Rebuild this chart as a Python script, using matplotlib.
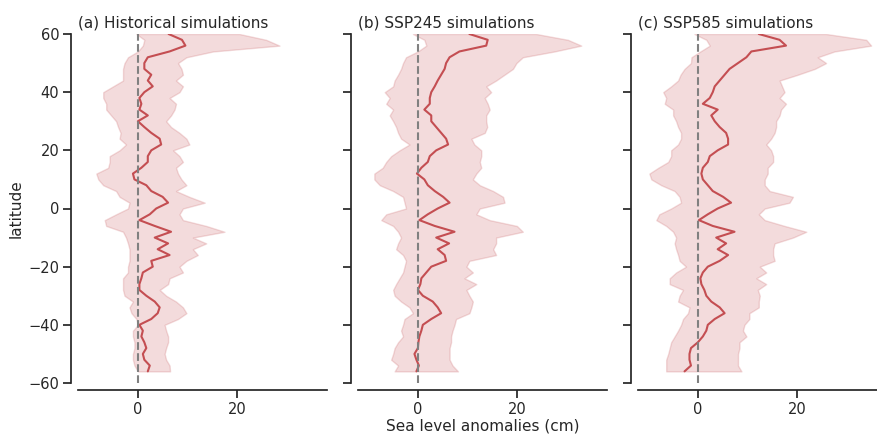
import numpy as np
import matplotlib
matplotlib.use("Agg")
import matplotlib.pyplot as plt
import seaborn as sns

# latitude grid (2 degree steps, north to south)
lat = np.arange(60, -57, -2)

# (a) historical
hist_mean = [6.2, 8.9, 9.6, 6.4, 2.0, 1.3, 1.3, 2.7, 2.0, 3.0, 1.3, 0.3, 0.7, 0.3, 2.0,
             0.0, 1.3, 2.7, 4.4, 4.7, 2.7, 2.0, 2.0, 0.7, -1.0, -0.7, 1.7, 2.7, 5.0, 6.1,
             3.7, 2.4, 0.3, 3.4, 6.7, 3.4, 6.1, 4.0, 6.4, 2.7, 3.0, 1.0, 0.7, 0.3, 0.3,
             1.7, 3.4, 4.4, 4.0, 2.7, 0.3, 1.0, 0.7, 1.3, 1.7, 1.0, 1.3, 2.4, 2.0]
hist_low = [-0.3, 1.3, 1.0, 0.0, -2.0, -2.7, -3.0, -3.0, -3.0, -5.0, -7.0, -7.0, -6.4, -6.4, -5.4,
            -4.4, -4.0, -3.5, -3.7, -2.4, -3.7, -5.7, -5.7, -6.0, -8.4, -8.0, -7.0, -4.4, -3.7, -1.7,
            -2.0, -4.4, -6.7, -6.4, -3.0, -2.4, -2.0, -1.7, -1.7, -1.7, -2.0, -2.0, -3.0, -3.0, -3.0,
            -2.7, -1.0, -1.7, -1.3, -0.3, 0.0, -1.0, -1.0, -0.7, -0.7, -1.0, -1.0, -0.7, 0.0]
hist_high = [20.5, 25.9, 28.6, 15.2, 9.8, 8.1, 8.8, 9.1, 7.7, 9.1, 8.4, 6.4, 7.7, 7.4, 6.7,
             5.7, 6.7, 8.4, 9.8, 10.4, 7.1, 8.4, 9.1, 7.7, 8.1, 8.8, 9.8, 7.7, 10.4, 13.5,
             9.1, 8.4, 9.1, 13.8, 17.5, 11.1, 13.8, 11.1, 12.1, 9.8, 8.4, 9.1, 6.4, 6.1, 4.4,
             5.7, 7.7, 9.1, 9.8, 8.1, 5.4, 5.7, 6.1, 6.1, 5.7, 5.4, 5.7, 6.4, 6.5]

# (b) SSP245
s245_mean = [10.4, 14.1, 13.8, 8.4, 6.4, 5.7, 5.4, 4.7, 4.0, 3.4, 2.7, 2.4, 2.4, 1.3, 2.7,
             2.7, 3.7, 4.7, 5.7, 6.1, 3.7, 2.4, 2.0, 0.7, -0.2, 1.3, 2.0, 3.4, 5.1, 6.4,
             4.0, 2.0, 0.3, 3.4, 7.4, 3.7, 6.3, 4.0, 5.4, 5.7, 2.7, 1.7, 0.7, 0.5, 0.0,
             1.0, 3.0, 4.0, 4.7, 2.7, 1.0, 0.7, 0.3, 0.1, 0.0, -0.7, -0.3, 0.2, -0.3]
s245_low = [-1.0, 1.3, 1.7, 0.0, -2.4, -3.0, -3.4, -4.0, -4.7, -5.0, -6.7, -5.7, -6.4, -5.0, -5.7,
            -5.0, -4.4, -4.0, -3.4, -1.7, -3.7, -5.4, -6.4, -7.1, -8.8, -8.8, -7.7, -5.0, -3.0, -2.7,
            -2.4, -6.4, -7.4, -5.0, -4.0, -3.4, -4.0, -4.4, -3.0, -2.4, -2.7, -3.0, -3.7, -4.4, -5.0,
            -4.7, -3.4, -1.7, -1.0, -2.7, -3.0, -3.4, -3.0, -4.0, -4.7, -5.0, -5.4, -4.0, -4.7]
s245_high = [23.9, 30.3, 33.0, 27.6, 21.2, 19.9, 19.2, 17.5, 15.8, 13.8, 14.8, 13.5, 14.1, 14.5, 13.8,
             13.8, 14.0, 13.5, 10.8, 11.4, 12.8, 12.8, 12.5, 12.8, 11.8, 11.1, 12.5, 15.2, 17.2, 17.5,
             12.5, 11.8, 14.5, 20.0, 21.2, 15.8, 15.8, 15.2, 15.8, 10.4, 9.8, 11.1, 9.4, 11.8, 9.8,
             10.4, 11.1, 10.8, 10.4, 7.7, 7.4, 7.0, 6.7, 6.7, 6.4, 6.4, 6.4, 7.0, 8.1]

# (c) SSP585
s585_mean = [12.3, 16.5, 17.8, 10.8, 9.8, 8.1, 6.4, 5.4, 4.4, 3.4, 3.0, 2.4, 1.0, 4.0, 2.7,
             3.4, 4.4, 5.7, 6.1, 6.1, 4.0, 2.4, 2.0, 1.0, 0.7, 1.0, 2.0, 3.0, 5.1, 6.7,
             4.0, 2.0, 0.2, 3.0, 7.4, 3.7, 5.7, 4.0, 6.1, 4.4, 2.0, 1.0, 0.5, 0.7, 1.3,
             1.7, 2.7, 4.4, 5.4, 3.4, 2.0, 1.7, 1.0, 0.0, -1.4, -1.7, -1.7, -1.4, -2.7]
s585_low = [-0.7, 1.7, 2.4, 0.5, -1.3, -1.4, -2.7, -3.5, -4.0, -5.4, -7.0, -6.4, -6.7, -5.0, -5.0,
            -4.4, -4.0, -3.4, -3.4, -4.0, -5.4, -5.4, -6.0, -8.0, -9.8, -9.4, -7.4, -4.7, -3.7, -3.4,
            -5.4, -7.8, -8.4, -6.4, -5.0, -4.4, -4.7, -4.4, -4.0, -3.7, -2.4, -4.4, -5.7, -5.7, -3.0,
            -3.7, -4.0, -1.7, -2.0, -3.0, -3.4, -4.0, -4.7, -5.4, -5.7, -6.0, -6.4, -6.4, -6.4]
s585_high = [25.9, 34.0, 35.0, 27.6, 24.2, 25.9, 23.6, 20.2, 16.5, 17.0, 17.5, 16.5, 17.8, 16.8, 16.5,
             15.8, 15.8, 15.5, 14.8, 13.8, 14.8, 15.2, 15.2, 14.1, 14.1, 13.5, 13.5, 14.5, 19.2, 18.5,
             13.5, 12.3, 13.5, 17.5, 21.9, 19.2, 15.5, 15.2, 15.2, 15.5, 12.5, 13.8, 11.8, 13.8, 12.1,
             12.5, 12.3, 12.3, 10.4, 10.4, 9.4, 9.1, 9.8, 8.4, 8.4, 8.1, 8.1, 8.1, 8.8]

titles = ["(a) Historical simulations", "(b) SSP245 simulations", "(c) SSP585 simulations"]
means = [hist_mean, s245_mean, s585_mean]
lows = [hist_low, s245_low, s585_low]
highs = [hist_high, s245_high, s585_high]

sns.set_theme(style="ticks")
plt.rcParams['font.family'] = ['DejaVu Sans']

fig = plt.figure(figsize=(8.77, 4.34), dpi=100)
red = "#c44e52"
lefts = [78, 358, 638]
axes = []
for i in range(3):
    ax = fig.add_axes([lefts[i] / 877, 51 / 434, 249 / 877, 349 / 434])
    axes.append(ax)
    ax.fill_betweenx(lat, lows[i], highs[i], color=red, alpha=0.2)
    ax.plot(means[i], lat, color=red, lw=1.5)
    ax.axvline(0, color="gray", ls="--", lw=1.5)
    ax.set_xlim(-12.1, 38.2)
    ax.set_ylim(-60, 60)
    ax.set_yticks([-60, -40, -20, 0, 20, 40, 60])
    ax.set_xticks([0, 20])
    ax.set_title(titles[i], loc="left", fontsize=11, pad=5)
    ax.tick_params(labelsize=10.5, pad=2.5)
    if i > 0:
        ax.set_yticklabels([])
    sns.despine(ax=ax, offset=5)

axes[0].set_ylabel("latitude", fontsize=11, labelpad=3)
axes[1].set_xlabel("Sea level anomalies (cm)", fontsize=11, labelpad=1)

fig.savefig("out.png", dpi=100)
